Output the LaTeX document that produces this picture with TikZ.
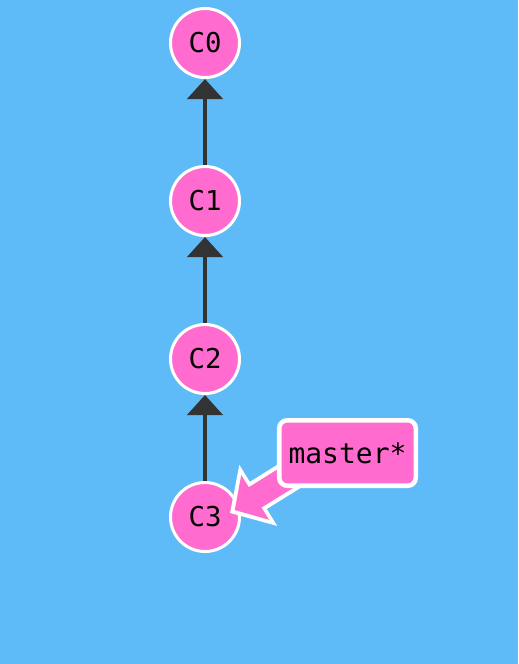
\documentclass[tikz,border=0pt]{standalone}
\usepackage{fontspec}
\usetikzlibrary{arrows.meta, calc}
\newfontfamily\gitmono{DejaVu Sans Mono}
\definecolor{gitbg}{HTML}{5EBBF8}
\definecolor{commitpink}{HTML}{FF6BCE}
\definecolor{edgegray}{HTML}{333333}

\begin{document}
\begin{tikzpicture}[x=0.75pt, y=-0.75pt,
    commit/.style={circle, draw=white, fill=commitpink, line width=2.25pt,
      minimum size=51.75pt, inner sep=0pt, font=\gitmono\fontsize{20.5}{22}\selectfont},
    parentedge/.style={draw=edgegray, line width=3.4pt,
      -{Triangle[width=26.25pt, length=15pt]}},
    branchlabel/.style={rectangle, rounded corners=6pt, draw=white, fill=commitpink,
      line width=3.4pt, minimum width=102.4pt, minimum height=49.1pt, inner sep=0pt,
      font=\gitmono\fontsize{21}{23}\selectfont}]
      \fill[gitbg] (0,0) rectangle (518,664);

      \node[commit] (c0) at (205,43) {C0};
      \node[commit] (c1) at (205,201) {C1};
      \node[commit] (c2) at (205,359) {C2};
      \node[commit] (c3) at (205,517) {C3};

      \draw[parentedge] (c1) -- (c0);
      \draw[parentedge] (c2) -- (c1);
      \draw[parentedge] (c3) -- (c2);

      % branch pointer, drawn under its label
      \coordinate (mlabel) at (347.5,453);
      \coordinate (mtail) at ($(mlabel)+(0,-13)$);
      \coordinate (c3tip) at ($(c3.east)+(-11,-4)$);
      \draw[white, line width=24pt, -{Triangle[width=52.5pt, length=25pt]}]
        (mtail) -- (c3tip);
      \draw[commitpink, line width=18pt, shorten >=4.2pt,
        -{Triangle[width=38.5pt, length=18pt]}] (mtail) -- (c3tip);

      \node[branchlabel] (master) at (mlabel) {master*};
    \end{tikzpicture}
\end{document}
